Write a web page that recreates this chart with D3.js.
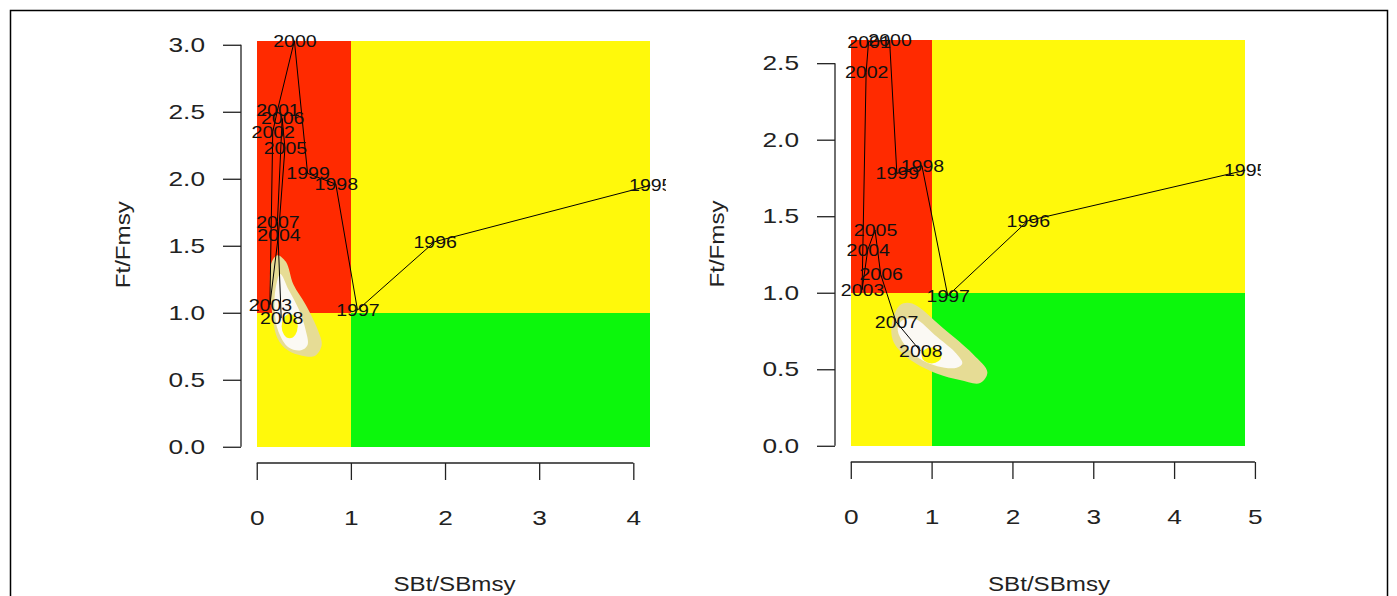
<!DOCTYPE html>
<html>
<head>
<meta charset="utf-8">
<script src="https://cdn.jsdelivr.net/npm/d3@7"></script>
<style>
    body { margin: 0; background: #fff; }
    text { font-family: "Liberation Sans", Arial, Helvetica, sans-serif; }
</style>
</head>
<body>
<svg id="paper"></svg>
<script>
// years of the trajectory
let years = [1995, 1996, 1997, 1998, 1999, 2000, 2001, 2002, 2003, 2004, 2005, 2006, 2007, 2008];

// left panel: SBt/SBmsy and Ft/Fmsy
let leftSB = [4.18, 1.89, 1.07, 0.84, 0.54, 0.40, 0.22, 0.17, 0.14, 0.23, 0.30, 0.27, 0.22, 0.26];
let leftF = [1.95, 1.53, 1.02, 1.96, 2.04, 3.03, 2.51, 2.35, 1.06, 1.58, 2.23, 2.45, 1.68, 0.96];

// right panel
let rightSB = [4.88, 2.19, 1.20, 0.88, 0.57, 0.48, 0.22, 0.19, 0.14, 0.21, 0.30, 0.37, 0.56, 0.86];
let rightF = [1.80, 1.47, 0.98, 1.83, 1.78, 2.65, 2.64, 2.44, 1.02, 1.28, 1.41, 1.12, 0.81, 0.62];

// density contours around the final year (outer, inner, centre)
let leftOuter = [[0.22, 1.43], [0.31, 1.38], [0.39, 1.21], [0.52, 1.06], [0.65, 0.87], [0.69, 0.76],
    [0.62, 0.68], [0.48, 0.68], [0.33, 0.72], [0.22, 0.81], [0.16, 1.02], [0.14, 1.24], [0.16, 1.38]];
let leftInner = [[0.25, 1.29], [0.34, 1.17], [0.45, 1.02], [0.52, 0.87], [0.54, 0.76], [0.47, 0.72],
    [0.34, 0.74], [0.23, 0.86], [0.19, 1.02], [0.20, 1.18]];
let leftCore = {cx: 0.35, cy: 0.90, rx: 0.085, ry: 0.09};

let rightOuter = [[0.61, 0.92], [0.76, 0.93], [1.14, 0.77], [1.51, 0.60], [1.69, 0.48], [1.60, 0.41],
    [1.35, 0.43], [1.07, 0.47], [0.69, 0.58], [0.52, 0.69], [0.51, 0.80]];
let rightInner = [[0.64, 0.82], [0.79, 0.83], [1.07, 0.71], [1.31, 0.60], [1.38, 0.54], [1.31, 0.51],
    [1.07, 0.52], [0.82, 0.58], [0.63, 0.69], [0.58, 0.77]];
let rightCore = {cx: 1.00, cy: 0.59, rx: 0.124, ry: 0.052};

// tick labels
let leftXTicks = [0, 1, 2, 3, 4];
let leftYTicks = [0, 0.5, 1, 1.5, 2, 2.5, 3];
let rightXTicks = [0, 1, 2, 3, 4, 5];
let rightYTicks = [0, 0.5, 1, 1.5, 2, 2.5];

let xTitle = "SBt/SBmsy", yTitle = "Ft/Fmsy";

let width = 1397, height = 596;
let red = "#ff2a00", yellow = "#fff90b", green = "#0cf70c", khaki = "#e6dc95";
// the reference glyphs are drawn a little wider than tall
let tickStretch = 1.25, textStretch = 1.15;

let svg = d3.select("#paper")
    .attr("width", width)
    .attr("height", height);

// figure frame
svg.append("rect")
    .attr("x", 10.5).attr("y", 10.5)
    .attr("width", 1377).attr("height", 600)
    .attr("fill", "none")
    .attr("stroke", "#000")
    .attr("stroke-width", 1.5);

let panels = [
    {id: "left", box: {left: 241, right: 666, top: 24.5, bottom: 463},
        sb: leftSB, f: leftF, outer: leftOuter, inner: leftInner, core: leftCore,
        xTicks: leftXTicks, yTicks: leftYTicks},
    {id: "right", box: {left: 835, right: 1261, top: 24, bottom: 462},
        sb: rightSB, f: rightF, outer: rightOuter, inner: rightInner, core: rightCore,
        xTicks: rightXTicks, yTicks: rightYTicks}
];

panels.forEach(drawPanel);

function drawPanel(p) {
    let b = p.box;
    let xMax = d3.max(p.sb), yMax = d3.max(p.f);
    // R style 4% padding on each side
    let x = d3.scaleLinear()
        .domain([-0.04 * xMax, xMax * 1.04])
        .range([b.left, b.right]);
    let y = d3.scaleLinear()
        .domain([-0.04 * yMax, yMax * 1.04])
        .range([b.bottom, b.top]);

    svg.append("clipPath")
        .attr("id", "clip-" + p.id)
        .append("rect")
        .attr("x", b.left).attr("y", b.top)
        .attr("width", b.right - b.left).attr("height", b.bottom - b.top);

    let g = svg.append("g").attr("clip-path", "url(#clip-" + p.id + ")");

    // kobe quadrants
    let quads = [
        {x0: 0, x1: 1, y0: 1, y1: yMax, fill: red},
        {x0: 1, x1: xMax, y0: 1, y1: yMax, fill: yellow},
        {x0: 0, x1: 1, y0: 0, y1: 1, fill: yellow},
        {x0: 1, x1: xMax, y0: 0, y1: 1, fill: green}
    ];
    g.selectAll(".quad")
        .data(quads)
        .enter()
        .append("rect")
        .attr("x", d => x(d.x0))
        .attr("y", d => y(d.y1))
        .attr("width", d => x(d.x1) - x(d.x0))
        .attr("height", d => y(d.y0) - y(d.y1))
        .attr("fill", d => d.fill)
        .attr("shape-rendering", "crispEdges");

    // contours
    let closed = d3.line()
        .x(d => x(d[0]))
        .y(d => y(d[1]))
        .curve(d3.curveCatmullRomClosed);
    g.append("path").attr("d", closed(p.outer)).attr("fill", khaki);
    g.append("path").attr("d", closed(p.inner)).attr("fill", "#fbf9f4");
    g.append("ellipse")
        .attr("cx", x(p.core.cx))
        .attr("cy", y(p.core.cy))
        .attr("rx", x(p.core.cx + p.core.rx) - x(p.core.cx))
        .attr("ry", y(p.core.cy) - y(p.core.cy + p.core.ry))
        .attr("fill", yellow);

    // trajectory
    let pts = years.map((yr, i) => ({year: yr, sb: p.sb[i], f: p.f[i]}));
    g.append("path")
        .attr("d", d3.line().x(d => x(d.sb)).y(d => y(d.f))(pts))
        .attr("fill", "none")
        .attr("stroke", "#000")
        .attr("stroke-width", 1);

    g.selectAll(".year")
        .data(pts)
        .enter()
        .append("text")
        .attr("transform", d => "translate(" + (x(d.sb) + 0.5) + "," + y(d.f) + ") scale(" + textStretch + ",1)")
        .attr("dy", "0.35em")
        .attr("text-anchor", "middle")
        .style("font-size", "17px")
        .attr("fill", "#111")
        .text(d => d.year);

    // axes
    let yAxis = d3.axisLeft(y)
        .tickValues(p.yTicks)
        .tickSize(18)
        .tickPadding(18)
        .tickFormat(d3.format(".1f"));
    let ya = svg.append("g")
        .attr("transform", "translate(" + b.left + ",0)")
        .call(yAxis);
    let xAxis = d3.axisBottom(x)
        .tickValues(p.xTicks)
        .tickSize(17)
        .tickPadding(30)
        .tickFormat(d3.format("d"));
    let xa = svg.append("g")
        .attr("transform", "translate(0," + b.bottom + ")")
        .call(xAxis);

    [ya, xa].forEach(a => {
        a.select(".domain").remove();
        a.selectAll("line").attr("stroke", "#222").attr("stroke-width", 1.3);
        a.selectAll("text")
            .style("font-size", "21px")
            .attr("fill", "#222")
            .each(function () {
                let t = d3.select(this);
                t.attr("x", (+t.attr("x") || 0) / tickStretch)
                    .attr("transform", "scale(" + tickStretch + ",1)");
            });
    });
    ya.append("line")
        .attr("x1", 0).attr("x2", 0)
        .attr("y1", y(p.yTicks[0])).attr("y2", y(p.yTicks[p.yTicks.length - 1]))
        .attr("stroke", "#222").attr("stroke-width", 1.3);
    xa.append("line")
        .attr("y1", 0).attr("y2", 0)
        .attr("x1", x(p.xTicks[0])).attr("x2", x(p.xTicks[p.xTicks.length - 1]))
        .attr("stroke", "#222").attr("stroke-width", 1.3);

    // titles
    svg.append("text")
        .attr("transform", "translate(" + ((b.left + b.right) / 2 + 1) + ",591) scale(" + textStretch + ",1)")
        .attr("text-anchor", "middle")
        .style("font-size", "21px")
        .attr("fill", "#222")
        .text(xTitle);
    svg.append("text")
        .attr("transform", "translate(" + (b.left - 118) + "," + ((b.top + b.bottom) / 2 + 1) + ") rotate(-90) scale(" + textStretch + ",1)")
        .attr("dy", "0.35em")
        .attr("text-anchor", "middle")
        .style("font-size", "21px")
        .attr("fill", "#222")
        .text(yTitle);
}
</script>
</body>
</html>
